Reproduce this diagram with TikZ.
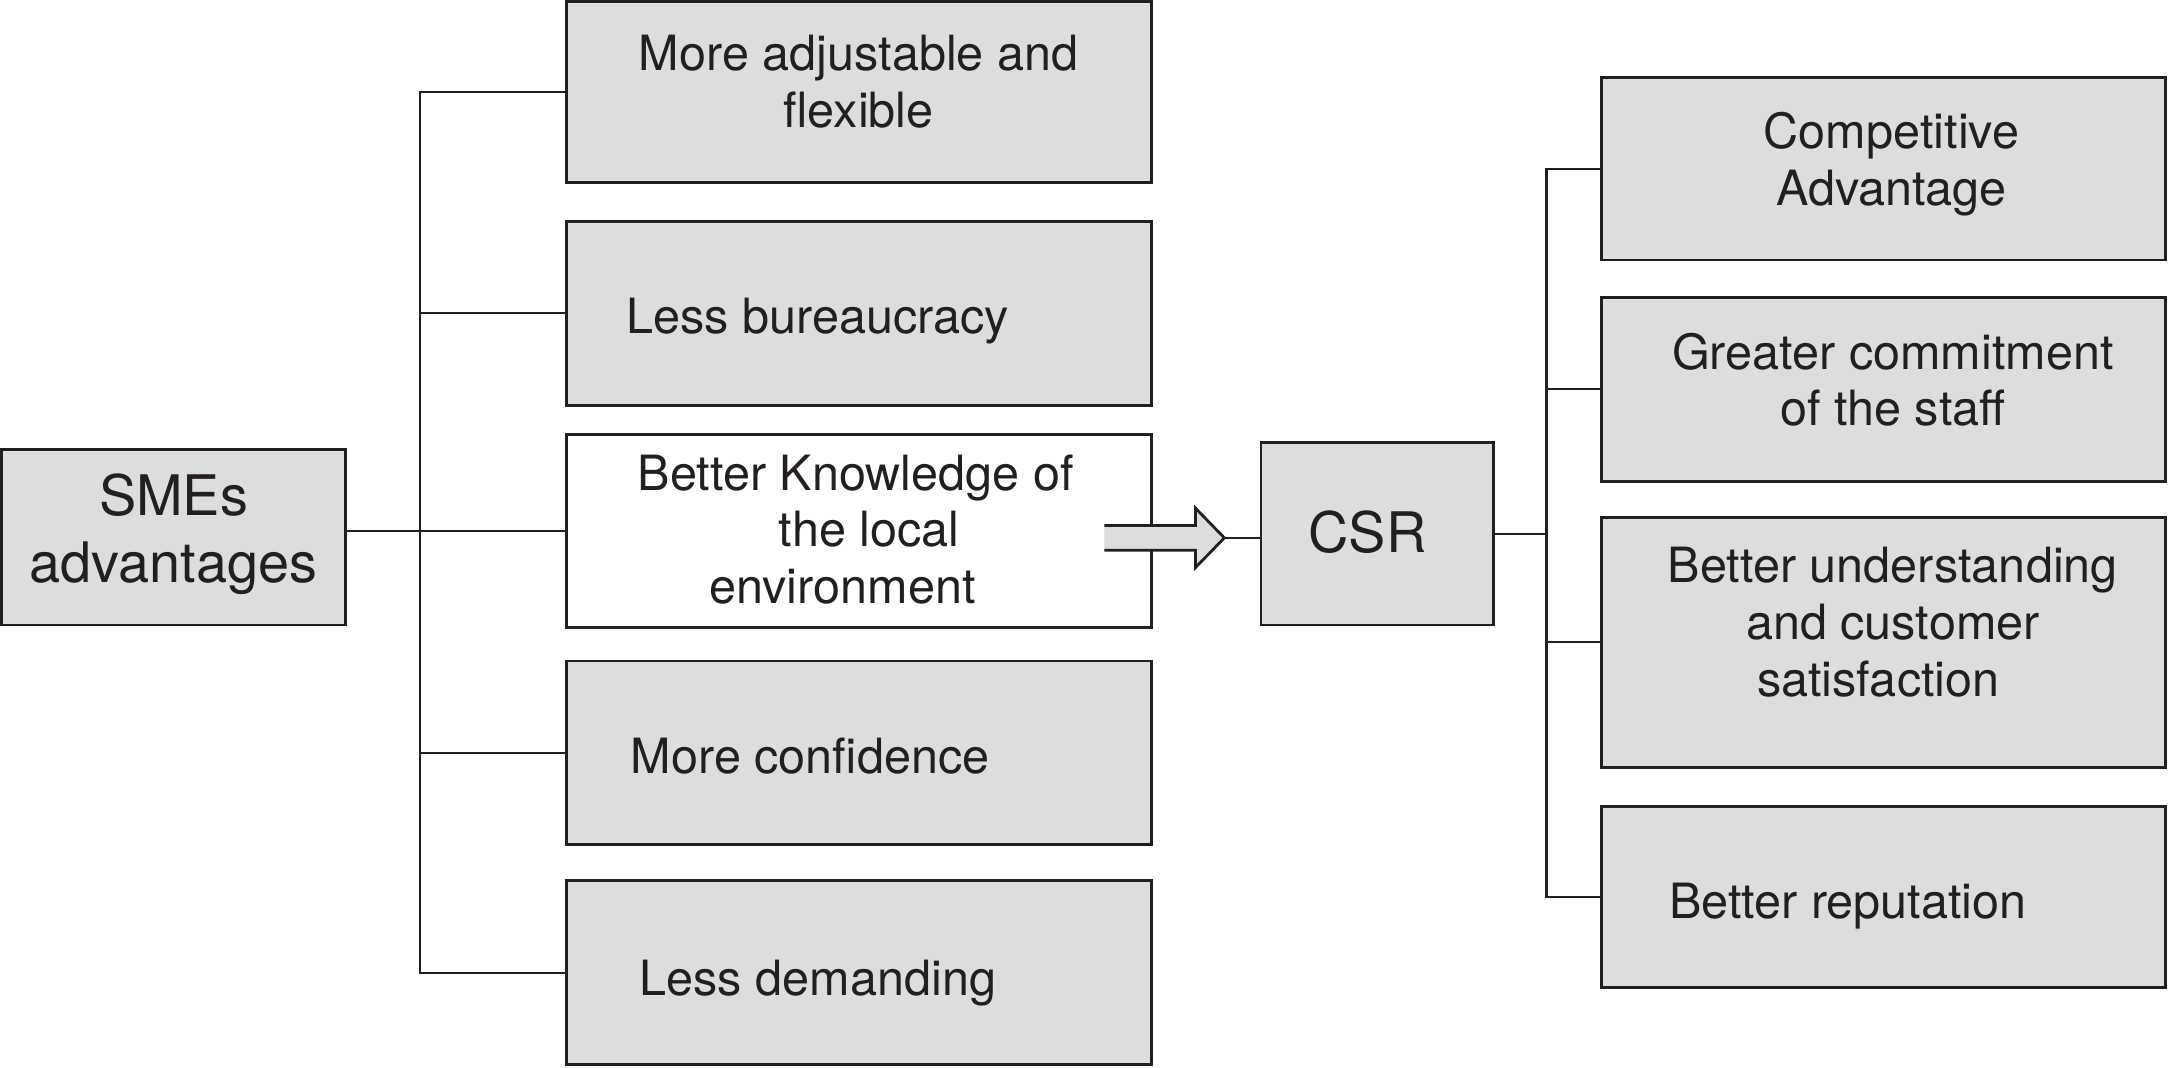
\documentclass[tikz,border=0pt]{standalone}
\usepackage{fontspec}
\setmainfont{TeX Gyre Heros}
\definecolor{ink}{RGB}{35,31,32}
\definecolor{boxgray}{RGB}{220,221,223}
\begin{document}
\begin{tikzpicture}[x=0.02cm,y=-0.02cm,
  gbox/.style={draw=ink,line width=1.15pt,fill=boxgray,inner sep=0pt},
  wbox/.style={draw=ink,line width=1.15pt,fill=white,inner sep=0pt},
  lbox/.style={minimum width=423*0.02cm},
  rbox/.style={minimum width=408*0.02cm},
  txt/.style={text=ink,align=center,inner sep=0pt,font=\fontsize{20}{23.3}\selectfont},
  bigtxt/.style={text=ink,align=center,inner sep=0pt,font=\fontsize{23}{27.8}\selectfont},
  conn/.style={draw=ink,line width=0.85pt}]
\useasboundingbox (0,0) rectangle (1568,772);
% left column boxes
\node[gbox,lbox,minimum height=131*0.02cm] (L1) at (621.5,66.5) {};
\node[gbox,lbox,minimum height=133*0.02cm] (L2) at (621.5,226.5) {};
\node[wbox,lbox,minimum height=140*0.02cm] (L3) at (621.5,384) {};
\node[gbox,lbox,minimum height=133*0.02cm] (L4) at (621.5,544.5) {};
\node[gbox,lbox,minimum height=133*0.02cm] (L5) at (621.5,703.5) {};
% SMEs and CSR
\node[gbox,minimum width=249*0.02cm,minimum height=127*0.02cm] (S) at (125.5,388.5) {};
\node[gbox,minimum width=168*0.02cm,minimum height=132*0.02cm] (C) at (996,386) {};
% right column boxes
\node[gbox,rbox,minimum height=132*0.02cm] (R1) at (1362,122) {};
\node[gbox,rbox,minimum height=133*0.02cm] (R2) at (1362,281.5) {};
\node[gbox,rbox,minimum height=181*0.02cm] (R3) at (1362,464.5) {};
\node[gbox,rbox,minimum height=131*0.02cm] (R4) at (1362,648.5) {};
% texts
\node[txt] (t1) at (621,59) {More adjustable and\\flexible};
\node[txt] (t2) at (591.5,232) {Less bureaucracy};
\node[txt] (t3) at (619,383) {Better Knowledge of\\\hspace*{0.55em}the local\\environment\hspace*{0.55em}};
\node[txt] (t4) at (586,547) {More confidence};
\node[txt] (t5) at (591.5,711) {Less demanding};
\node[bigtxt] (ts) at (125.5,386.5) {SMEs\\advantages};
\node[bigtxt] (tc) at (989,385) {CSR};
\node[txt] (r1) at (1368,118.5) {Competitive\\Advantage};
\node[txt] (r2) at (1369,274.5) {Greater commitment\\of the staff};
\node[txt] (r3) at (1369,450) {Better understanding\\and customer\\satisfaction\hspace*{0.6em}};
\node[txt] (r4) at (1336.5,655) {Better reputation};
% left tree
\coordinate (lt) at (304,0);
\draw[conn] (L1.west) -- (L1.west -| lt) -- (L5.west -| lt) -- (L5.west);
\draw[conn] (L2.west) -- (L2.west -| lt);
\draw[conn] (L4.west) -- (L4.west -| lt);
\draw[conn] (S.east |- L3.west) -- (L3.west);
% right tree
\coordinate (rt) at (1118.5,0);
\draw[conn] (R1.west) -- (R1.west -| rt) -- (R4.west -| rt) -- (R4.west);
\draw[conn] (R2.west) -- (R2.west -| rt);
\draw[conn] (R3.west) -- (R3.west -| rt);
\draw[conn] (C.east) -- (C.east -| rt);
% block arrow
\coordinate (tip) at (885.5,389);
\fill[boxgray] (798.7,380) -- (864.7,380) -- (864.7,367.6) -- (tip) -- (864.7,410.4) -- (864.7,398) -- (798.7,398) -- cycle;
\draw[ink,line width=1.15pt,line join=miter] (798.7,380) -- (864.7,380) -- (864.7,367.6) -- (tip) -- (864.7,410.4) -- (864.7,398) -- (798.7,398);
\draw[conn] (tip) -- (C.west |- tip);
\end{tikzpicture}
\end{document}
